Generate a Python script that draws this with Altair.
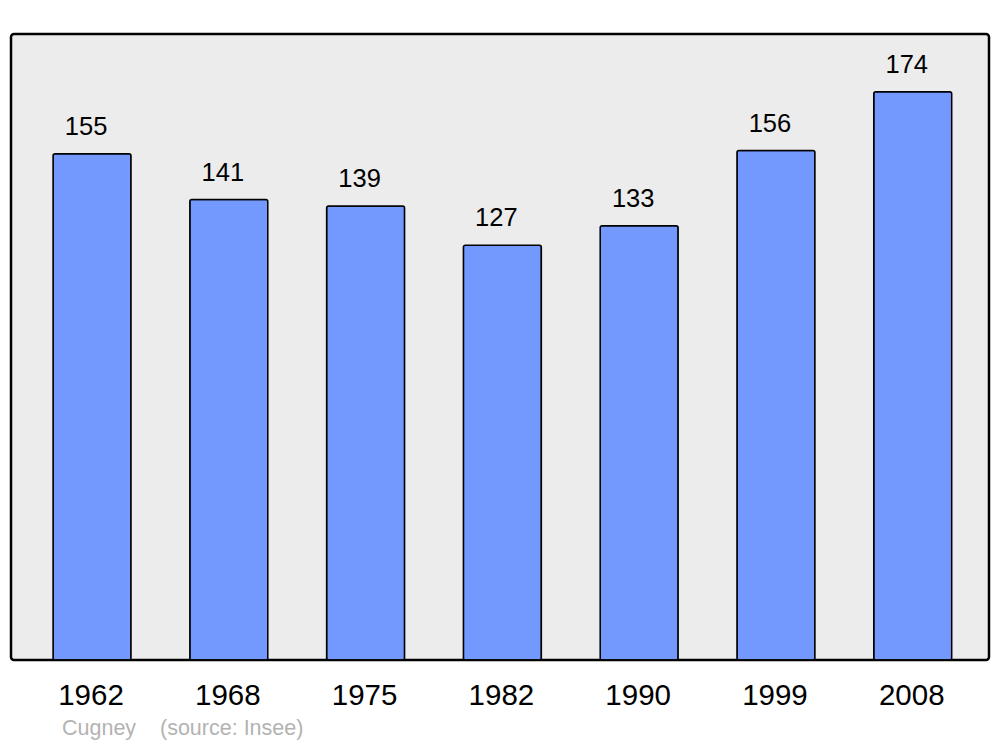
import altair as alt
import pandas as pd

years = ["1962", "1968", "1975", "1982", "1990", "1999", "2008"]
population = [155, 141, 139, 127, 133, 156, 174]
footer = "Cugney\u00a0\u00a0\u00a0\u00a0(source: Insee)"

df = pd.DataFrame({"year": years, "pop": population})

x = alt.X("year:N", sort=years, title=None,
          scale=alt.Scale(paddingInner=0.43, paddingOuter=0.29, align=0.53),
          axis=alt.Axis(labelAngle=0, ticks=False, domain=False, labelFontSize=29.5,
                        labelFont="Liberation Sans", labelColor="#000000", labelPadding=21,
                        labelOffset=-1))
y = alt.Y("pop:Q", title=None, scale=alt.Scale(domain=[0, 191.7], nice=False, zero=True),
          axis=None)

bars = alt.Chart(df).mark_bar(color="#7399ff", stroke="#000000", strokeWidth=1.5,
                              cornerRadius=2).encode(x=x, y=y)
labels = alt.Chart(df).mark_text(baseline="alphabetic", dy=-19, dx=-6, fontSize=25.5,
                                 font="Liberation Sans", color="#000000").encode(
    x=alt.X("year:N", sort=years), y="pop:Q", text="pop:Q")
foot = alt.Chart(pd.DataFrame({"t": [footer]})).mark_text(
    align="left", baseline="alphabetic", fontSize=21.5, font="Liberation Sans",
    color="#b3b3b3", clip=False).encode(x=alt.value(51), y=alt.value(701), text="t:N")

chart = alt.layer(bars, labels, foot).properties(
    width=978, height=626,
    autosize=alt.AutoSizeParams(type="none"),
    padding={"left": 3, "top": 26, "right": 3, "bottom": 90},
    background="#ffffff",
).configure_view(fill="#ececec", stroke="#000000", strokeWidth=2.5, cornerRadius=3)

chart.save("out.html", embed_options={"renderer": "svg", "actions": False})
